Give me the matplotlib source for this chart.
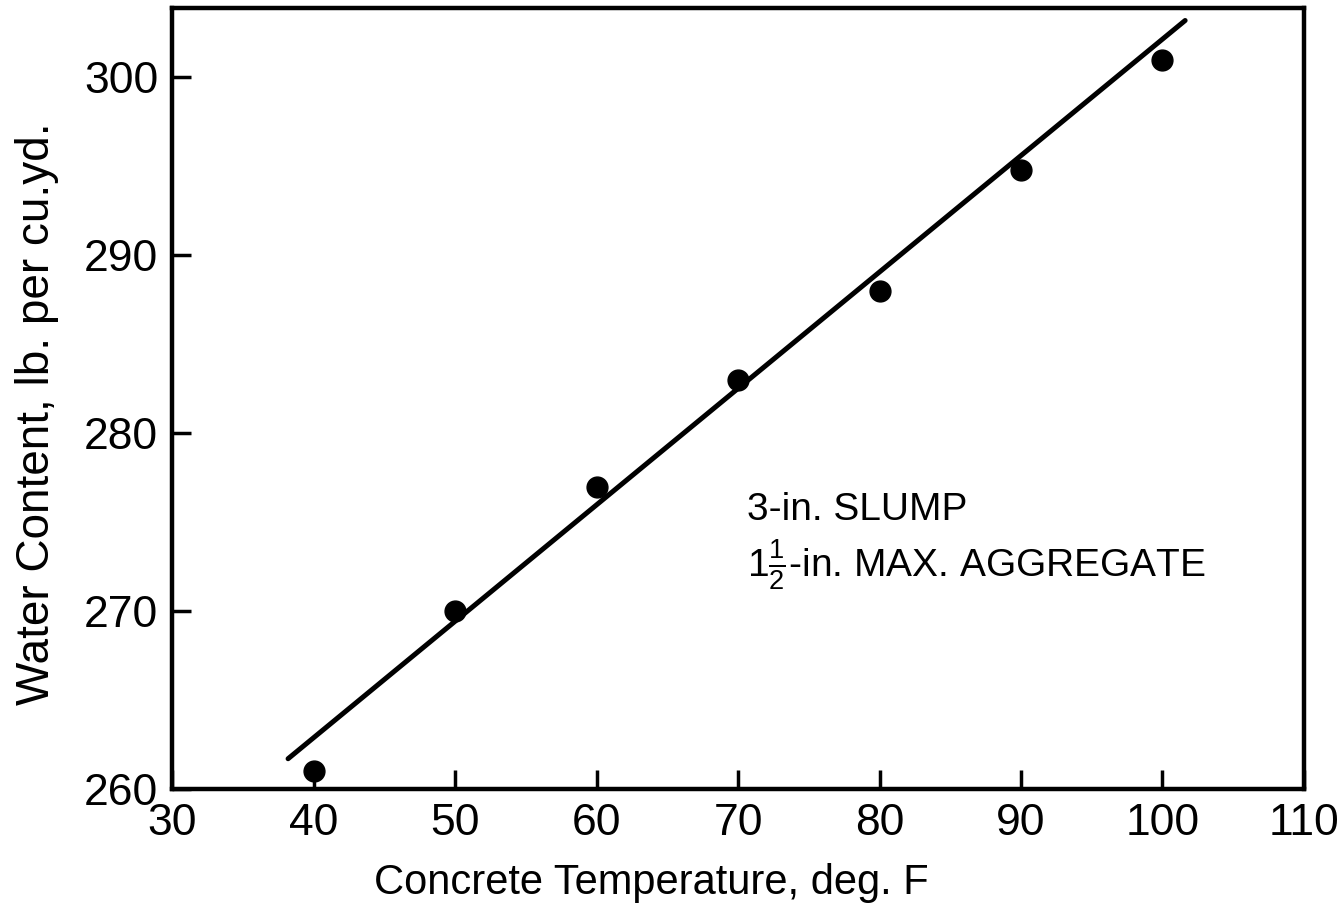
import matplotlib
matplotlib.use("Agg")
import matplotlib.pyplot as plt

temp = [40, 50, 60, 70, 80, 90, 100]
water = [261.0, 270.0, 277.0, 283.0, 288.0, 294.8, 301.0]

fit_x = [38.2, 101.6]
fit_y = [261.7, 303.2]

xticks = [30, 40, 50, 60, 70, 80, 90, 100, 110]
yticks = [260, 270, 280, 290, 300]

plt.rcParams["font.family"] = ["Liberation Sans", "DejaVu Sans"]
plt.rcParams["mathtext.fontset"] = "custom"
plt.rcParams["mathtext.rm"] = "Liberation Sans"
plt.rcParams["mathtext.it"] = "Liberation Sans"

fig = plt.figure(figsize=(13.41, 9.14), dpi=100)
ax = fig.add_axes([0.1283, 0.1368, 0.8441, 0.8544])

ax.plot(fit_x, fit_y, color="black", lw=3.6, solid_capstyle="round")
ax.plot(temp, water, "o", color="black", ms=15)

ax.set_xlim(30, 110)
ax.set_ylim(260, 303.9)
ax.set_xticks(xticks)
ax.set_yticks(yticks)
ax.tick_params(direction="in", length=14, width=2.5, labelsize=32, pad=10)
for s in ax.spines.values():
    s.set_linewidth(3.2)

ax.set_xlabel("Concrete Temperature, deg. F", fontsize=30)
ax.xaxis.set_label_coords(0.423, -0.095)
ax.set_ylabel("Water Content, lb. per cu.yd.", fontsize=33)
ax.yaxis.set_label_coords(-0.100, 0.48)

ax.text(70.6, 275.7, "3-in. SLUMP", fontsize=28, va="center")
ax.text(70.6, 272.6, r"$1\frac{1}{2}$-in. MAX. AGGREGATE", fontsize=28, va="center")

fig.savefig("out.png", dpi=100)
